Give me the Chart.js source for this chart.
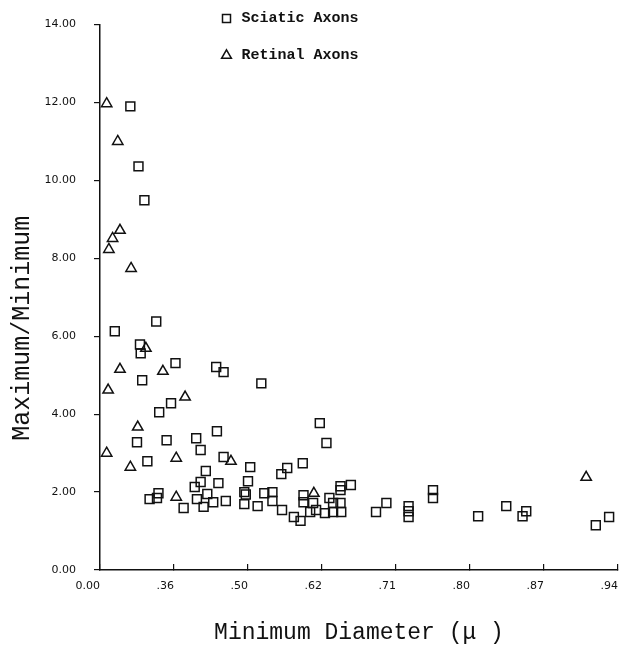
<!DOCTYPE html>
<html lang="en">
<head>
    <meta charset="UTF-8">
    <title>Maximum/Minimum vs Minimum Diameter</title>
    <script src="https://cdn.jsdelivr.net/npm/chart.js"></script>
    <style>
        body {
            margin: 0;
            background-color: white;
        }
        #wrap {
            width: 634px;
            height: 653px;
        }
    </style>
</head>
<body>
    <div id="wrap"><canvas id="axonChart"></canvas></div>

    <script>
        // x axis ticks are evenly spaced, so x values are in tick units (0 = 0.00, 7 = .94)
        const xTickLabels = ['0.00', '.36', '.50', '.62', '.71', '.80', '.87', '.94'];

        // Sciatic axons (squares)
        const sciaticX = [0.41, 0.52, 0.60, 0.76, 0.20, 0.54, 0.55, 1.02, 1.57, 1.67,
                          0.57, 2.18, 0.96, 0.80, 1.58, 0.50, 0.90, 1.30, 1.36, 1.67,
                          0.64, 2.03, 1.43, 2.00, 1.60, 1.36, 1.28, 0.79, 0.77, 0.67,
                          1.45, 1.95, 1.97, 2.22, 2.33, 1.31, 1.53, 1.70, 1.95, 2.33,
                          2.13, 1.40, 1.13, 2.97, 3.06, 2.74, 2.53, 2.45, 2.46, 2.62,
                          2.71, 2.75, 2.75, 2.84, 2.88, 2.92, 3.04, 3.10, 3.15, 3.15,
                          3.25, 3.26, 3.25, 3.25, 3.39, 3.73, 3.87, 4.17, 4.17, 4.17,
                          4.50, 4.50, 5.11, 5.49, 5.71, 5.76, 6.70, 6.88];
        const sciaticY = [11.90, 10.36, 9.49, 6.38, 6.13, 5.79, 5.56, 5.31, 5.21, 5.08,
                          4.87, 4.79, 4.28, 4.05, 3.56, 3.28, 3.33, 3.38, 3.08, 2.90,
                          2.79, 2.64, 2.54, 2.28, 2.23, 2.26, 2.13, 1.97, 1.85, 1.82,
                          1.95, 2.00, 1.94, 1.97, 2.00, 1.82, 1.74, 1.77, 1.69, 1.77,
                          1.64, 1.62, 1.59, 3.77, 3.26, 2.74, 2.62, 2.46, 1.54, 1.36,
                          1.26, 1.92, 1.74, 1.49, 1.72, 1.54, 1.46, 1.85, 1.72, 1.49,
                          1.72, 1.49, 2.15, 2.05, 2.18, 1.49, 1.72, 1.64, 1.51, 1.36,
                          2.05, 1.85, 1.38, 1.64, 1.38, 1.51, 1.15, 1.36];

        // Retinal axons (triangles)
        const retinalX = [0.09, 0.24, 0.27, 0.17, 0.12, 0.42, 0.62, 0.27, 0.85, 0.11,
                          1.15, 0.51, 0.09, 0.41, 1.03, 1.77, 1.03, 2.89, 6.57];
        const retinalY = [11.97, 11.00, 8.72, 8.51, 8.23, 7.74, 5.69, 5.15, 5.10, 4.62,
                          4.44, 3.67, 3.00, 2.64, 2.87, 2.79, 1.87, 1.97, 2.38];

        const toPoints = (xs, ys) => xs.map((x, i) => ({ x: x, y: ys[i] }));

        const ink = '#111';
        const tickFont = { family: '"DejaVu Sans", sans-serif', size: 11 };

        // legend sits above the top-left of the plot, as in the scan
        const legendMover = {
            id: 'legendMover',
            afterLayout(chart) {
                const lg = chart.legend;
                const pad = lg.options.labels.padding;
                lg.left = 219 - pad;
                lg.right = lg.left + lg.width;
                lg.top = 11 - pad;
            }
        };

        // rotated y title, centred a little below the middle of the axis
        const yTitle = {
            id: 'yTitle',
            afterDraw(chart) {
                const a = chart.chartArea;
                const c = chart.ctx;
                c.save();
                c.translate(22, (a.top + a.bottom) / 2 + 31);
                c.rotate(-Math.PI / 2);
                c.font = '25px "Liberation Mono", monospace';
                c.fillStyle = ink;
                c.textAlign = 'center';
                c.textBaseline = 'middle';
                c.fillText('Maximum/Minimum', 0, 0);
                c.restore();
            }
        };

        const ctx = document.getElementById('axonChart').getContext('2d');
        const myChart = new Chart(ctx, {
            type: 'scatter',
            data: {
                datasets: [
                    {
                        label: 'Sciatic Axons',
                        data: toPoints(sciaticX, sciaticY),
                        pointStyle: 'rect',
                        pointRadius: 6.3,
                        pointHoverRadius: 6.3,
                        borderColor: ink,
                        backgroundColor: 'rgba(0,0,0,0)',
                        borderWidth: 1.5
                    },
                    {
                        label: 'Retinal Axons',
                        data: toPoints(retinalX, retinalY),
                        pointStyle: 'triangle',
                        pointRadius: 6,
                        pointHoverRadius: 6,
                        borderColor: ink,
                        backgroundColor: 'rgba(0,0,0,0)',
                        borderWidth: 1.5
                    }
                ]
            },
            options: {
                responsive: true,
                maintainAspectRatio: false,
                animation: false,
                devicePixelRatio: 1,
                layout: { padding: { top: 24, right: 1, left: 0, bottom: 0 } },
                scales: {
                    x: {
                        type: 'linear',
                        min: 0,
                        max: 7,
                        afterFit: (s) => { s.height = 83; },
                        border: { display: true, color: ink, width: 1.5 },
                        grid: { drawOnChartArea: false, drawTicks: true, tickLength: -6, color: ink, lineWidth: 1.2 },
                        ticks: {
                            stepSize: 1,
                            align: 'end',
                            padding: 16,
                            color: ink,
                            font: tickFont,
                            callback: (v) => xTickLabels[v]
                        },
                        title: {
                            display: true,
                            text: 'Minimum Diameter (\u03bc )',
                            color: ink,
                            font: { family: '"Liberation Mono", monospace', size: 23 },
                            padding: { top: 0, bottom: 6 }
                        }
                    },
                    y: {
                        min: 0,
                        max: 14,
                        afterFit: (s) => { s.width = 100; },
                        border: { display: true, color: ink, width: 1.5 },
                        grid: { drawOnChartArea: false, drawTicks: true, tickLength: 6, color: ink, lineWidth: 1.2 },
                        ticks: {
                            stepSize: 2,
                            padding: 18,
                            color: ink,
                            font: tickFont,
                            callback: (v) => v.toFixed(2)
                        }
                    }
                },
                plugins: {
                    legend: {
                        position: 'chartArea',
                        align: 'start',
                        labels: {
                            usePointStyle: true,
                            boxWidth: 15,
                            boxHeight: 8,
                            padding: 22,
                            color: ink,
                            font: { family: '"Liberation Mono", monospace', size: 15, weight: 'bold' }
                        }
                    },
                    tooltip: { enabled: false }
                }
            },
            plugins: [legendMover, yTitle]
        });
    </script>
</body>
</html>
